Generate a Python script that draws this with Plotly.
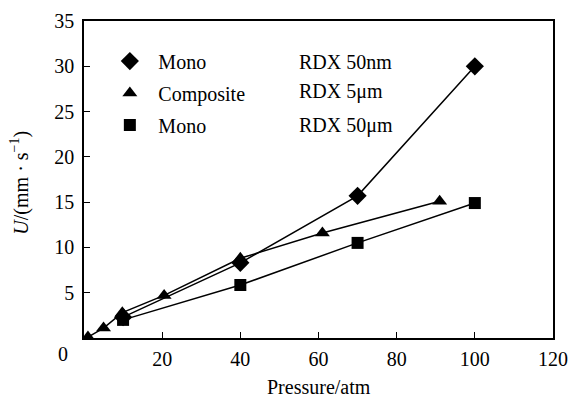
import plotly.graph_objects as go

# Data
mono_nm_x = [10, 40, 70, 100]
mono_nm_y = [2.3, 8.3, 15.7, 30.0]
comp_x = [1, 5, 9.8, 20.5, 40, 61, 91]
comp_y = [0.1, 1.1, 2.8, 4.7, 8.8, 11.6, 15.1]
mono_um_x = [10, 40, 70, 100]
mono_um_y = [2.0, 5.85, 10.5, 14.9]

series = [
    ("Mono", "RDX 50nm", mono_nm_x, mono_nm_y, "diamond", 14),
    ("Composite", "RDX 5μm", comp_x, comp_y, "triangle-up", 13),
    ("Mono", "RDX 50μm", mono_um_x, mono_um_y, "square", 12),
]

x_ticks = [20, 40, 60, 80, 100, 120]
y_ticks = [5, 10, 15, 20, 25, 30, 35]

FONT = "'Liberation Serif', 'Times New Roman', Times, serif"
FS = 20
fig = go.Figure()
for i, (name, sub, xs, ys, sym, sz) in enumerate(series):
    fig.add_trace(go.Scatter(x=xs, y=ys, mode="lines+markers",
                             line=dict(color="black", width=1.5),
                             marker=dict(symbol=sym, size=sz, color="black"),
                             showlegend=False))
for i, (name, sub, xs, ys, sym, sz) in enumerate(series):
    fig.add_trace(go.Scatter(x=[None], y=[None], mode="markers", name=name,
                             legendgroup=str(i),
                             marker=dict(symbol=sym, size=sz, color="black"),
                             showlegend=True))

legend_y = [30.5, 27.2, 23.5]
for (name, sub, *_), yy in zip(series, legend_y):
    fig.add_annotation(x=54.5, y=yy, text=sub, showarrow=False, xanchor="left",
                       yanchor="middle", font=dict(family=FONT, size=FS, color="black"))

fig.add_annotation(x=-0.03, y=-0.008, xref="paper", yref="paper", text="0", showarrow=False,
                   xanchor="right", yanchor="top", font=dict(family=FONT, size=FS, color="black"))
fig.add_annotation(x=-0.1365, y=0.49, xref="paper", yref="paper", textangle=-90,
                   text="<i>U</i>/(mm · s<sup>−1</sup>)", showarrow=False,
                   xanchor="center", yanchor="middle", font=dict(family=FONT, size=FS, color="black"))
fig.add_annotation(x=0.5, y=-0.155, xref="paper", yref="paper",
                   text="Pressure/atm", showarrow=False,
                   xanchor="center", yanchor="middle", font=dict(family=FONT, size=FS, color="black"))

axis_common = dict(showline=True, linecolor="black", linewidth=1.5, mirror=True,
                   ticks="inside", ticklen=6, tickcolor="black", tickwidth=1.2,
                   showgrid=False, zeroline=False, automargin=False,
                   tickfont=dict(family=FONT, size=FS, color="black"))
fig.update_xaxes(range=[0, 120], tickvals=x_ticks, ticklabelstandoff=2, **axis_common)
fig.update_yaxes(range=[0, 35], tickvals=y_ticks, ticklabelstandoff=4, **axis_common)
fig.update_layout(
    width=570, height=401,
    margin=dict(l=84, r=17, t=21, b=63),
    paper_bgcolor="white", plot_bgcolor="white",
    font=dict(family=FONT, size=FS, color="black"),
    legend=dict(x=0.037, y=0.935, xanchor="left", yanchor="top", bgcolor="rgba(0,0,0,0)",
                font=dict(family=FONT, size=FS, color="black"), tracegroupgap=3,
                itemwidth=47),
)
fig.write_html("out.html", config={"displayModeBar": False},
               post_script="document.body.style.margin='0';document.body.style.overflow='hidden';")
